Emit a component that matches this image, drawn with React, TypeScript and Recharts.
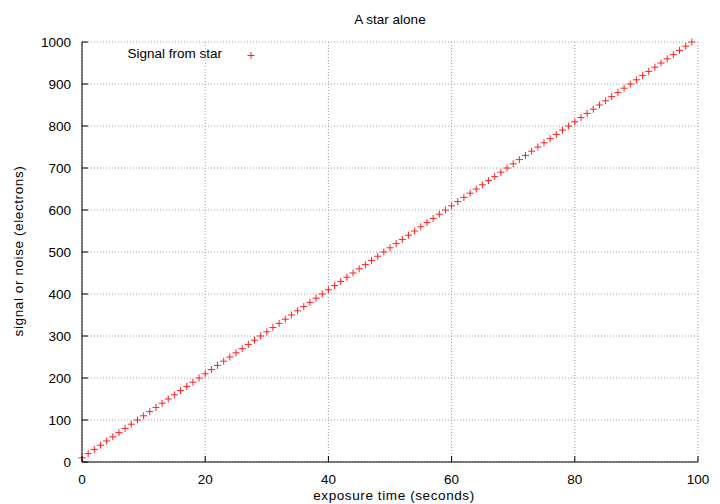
import React from "react";
import { ScatterChart, Scatter, XAxis, YAxis, CartesianGrid } from "recharts";

const title = "A star alone";
const xLabel = "exposure time (seconds)";
const yLabel = "signal or noise (electrons)";
const seriesName = "Signal from star";

const xTicks = [0, 20, 40, 60, 80, 100];
const yTicks = [0, 100, 200, 300, 400, 500, 600, 700, 800, 900, 1000];

const times = [
  0, 1, 2, 3, 4, 5, 6, 7, 8, 9, 10, 11, 12, 13, 14, 15, 16, 17, 18, 19,
  20, 21, 22, 23, 24, 25, 26, 27, 28, 29, 30, 31, 32, 33, 34, 35, 36, 37, 38, 39,
  40, 41, 42, 43, 44, 45, 46, 47, 48, 49, 50, 51, 52, 53, 54, 55, 56, 57, 58, 59,
  60, 61, 62, 63, 64, 65, 66, 67, 68, 69, 70, 71, 72, 73, 74, 75, 76, 77, 78, 79,
  80, 81, 82, 83, 84, 85, 86, 87, 88, 89, 90, 91, 92, 93, 94, 95, 96, 97, 98, 99,
];

const signal = [
  10, 20, 30, 40, 50, 60, 70, 80, 90, 100, 110, 120, 130, 140, 150, 160, 170, 180, 190, 200,
  210, 220, 230, 240, 250, 260, 270, 280, 290, 300, 310, 320, 330, 340, 350, 360, 370, 380, 390, 400,
  410, 420, 430, 440, 450, 460, 470, 480, 490, 500, 510, 520, 530, 540, 550, 560, 570, 580, 590, 600,
  610, 620, 630, 640, 650, 660, 670, 680, 690, 700, 710, 720, 730, 740, 750, 760, 770, 780, 790, 800,
  810, 820, 830, 840, 850, 860, 870, 880, 890, 900, 910, 920, 930, 940, 950, 960, 970, 980, 990, 1000,
];

const data = times.map((t, i) => ({ t, s: signal[i] }));

const FONT = "'Liberation Sans', Arial, sans-serif";
const FS = 13.5;
const RED = "#ff2020";
const TICK = 6;

const Plus = (props: any) => {
  const { cx, cy } = props;
  if (cx == null || cy == null) return null;
  return (
    <path
      d={`M${cx - 3.5},${cy}h7M${cx},${cy - 3.5}v7`}
      stroke={RED}
      strokeWidth={1}
      fill="none"
    />
  );
};

const BottomTick = ({ x, y, payload }: any) => (
  <g>
    <line x1={x} y1={y} x2={x} y2={y - TICK} stroke="#000" />
    <text x={x} y={y + 22} textAnchor="middle" fontSize={FS} fontFamily={FONT} fill="#000">
      {payload.value}
    </text>
  </g>
);

const TopTick = ({ x, y }: any) => (
  <line x1={x} y1={y} x2={x} y2={y + TICK} stroke="#000" />
);

const LeftTick = ({ x, y, payload }: any) => (
  <g>
    <line x1={x} y1={y} x2={x + TICK} y2={y} stroke="#000" />
    <text x={x - 11} y={y + 5} textAnchor="end" fontSize={FS} fontFamily={FONT} fill="#000">
      {payload.value}
    </text>
  </g>
);

const RightTick = ({ x, y }: any) => (
  <line x1={x} y1={y} x2={x - TICK} y2={y} stroke="#000" />
);

export default function App() {
  return (
    <div style={{ position: "absolute", left: 0, top: 0, width: 720, height: 504, background: "#fff", fontFamily: FONT, fontSize: FS }}>
      <div style={{ position: "absolute", left: 82, width: 616, top: 12, textAlign: "center" }}>
        {title}
      </div>
      <div style={{ position: "absolute", left: 82, width: 624, top: 488, textAlign: "center", letterSpacing: 0.6, lineHeight: "16px" }}>
        {xLabel}
      </div>
      <div
        style={{
          position: "absolute",
          left: 18,
          top: 251,
          transform: "translate(-50%, -50%) rotate(-90deg)",
          whiteSpace: "nowrap",
          letterSpacing: 0.6,
        }}
      >
        {yLabel}
      </div>
      <div style={{ position: "absolute", left: 90, width: 132, top: 46, textAlign: "right" }}>
        {seriesName}
      </div>
      <svg style={{ position: "absolute", left: 244, top: 48 }} width={16} height={14}>
        <path d="M3.5,7.5h7M7,4v7" stroke={RED} strokeWidth={1} fill="none" />
      </svg>
      <ScatterChart width={720} height={504} margin={{ top: 42, right: 22, bottom: 0, left: 0 }}>
        <CartesianGrid stroke="#a0a0a0" strokeDasharray="1 2" />
        <XAxis
          dataKey="t"
          type="number"
          domain={[0, 100]}
          ticks={xTicks}
          height={42}
          tickSize={0}
          tickMargin={0}
          tickLine={false}
          axisLine={{ stroke: "#000" }}
          tick={<BottomTick />}
          interval={0}
        />
        <XAxis
          xAxisId="top"
          orientation="top"
          type="number"
          domain={[0, 100]}
          ticks={xTicks}
          height={0}
          tickSize={0}
          tickMargin={0}
          tickLine={false}
          axisLine={{ stroke: "#000" }}
          tick={<TopTick />}
          interval={0}
        />
        <YAxis
          dataKey="s"
          type="number"
          domain={[0, 1000]}
          ticks={yTicks}
          width={82}
          tickSize={0}
          tickMargin={0}
          tickLine={false}
          axisLine={{ stroke: "#000" }}
          tick={<LeftTick />}
          interval={0}
        />
        <YAxis
          yAxisId="right"
          orientation="right"
          type="number"
          domain={[0, 1000]}
          ticks={yTicks}
          width={0}
          tickSize={0}
          tickMargin={0}
          tickLine={false}
          axisLine={{ stroke: "#000" }}
          tick={<RightTick />}
          interval={0}
        />
        <Scatter data={data} shape={<Plus />} isAnimationActive={false} />
      </ScatterChart>
    </div>
  );
}
